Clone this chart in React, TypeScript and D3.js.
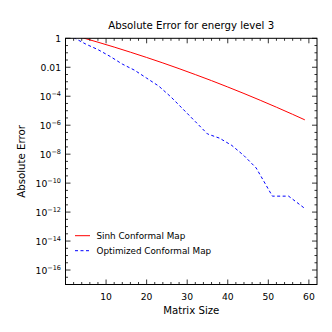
import React from "react";
import * as d3 from "d3";

// matrix sizes and absolute errors
const sinhSizes = [4, 8, 12, 16, 20, 24, 28, 32, 36, 40, 44, 48, 52, 56, 59];
const sinhErrors = [
  1.13, 0.538, 0.248, 0.11, 0.0475, 0.0199, 0.00802, 0.00313, 0.00119,
  4.34e-4, 1.54e-4, 5.27e-5, 1.75e-5, 5.61e-6, 2.34e-6,
];

const optSizes = [2, 5, 8, 11, 14, 17, 20, 23, 26, 29, 32, 35, 38, 41, 44, 47, 51, 55, 59];
const optErrors = [
  1.12, 0.398, 0.166, 0.0562, 0.0166, 0.00631, 0.00178, 5.0e-4, 8.9e-5, 1.26e-5,
  1.78e-6, 2.5e-7, 1.26e-7, 4.0e-8, 7.9e-9, 1.12e-9, 1.26e-11, 1.26e-11, 1.78e-12,
];

const xTicks = [10, 20, 30, 40, 50, 60];
const yTickExps = [0, -2, -4, -6, -8, -10, -12, -14, -16];

const W = 332;
const H = 332;
const m = { left: 65.5, right: 317, top: 38.3, bottom: 284.5 };
const FONT = "DejaVu Sans, sans-serif";

const x = d3.scaleLinear().domain([0, 62]).range([m.left, m.right]);
const y = d3.scaleLog().domain([1e-17, 1]).range([m.bottom, m.top]);

const lineGen = d3
  .line<[number, number]>()
  .x((d) => x(d[0]))
  .y((d) => y(d[1]));

const yLabel = (e: number) => {
  if (e === 0) return <tspan>1</tspan>;
  if (e === -2) return <tspan>0.01</tspan>;
  return (
    <>
      <tspan>10</tspan>
      <tspan dy={-4} fontSize={6.5}>
        {"\u2212" + Math.abs(e)}
      </tspan>
    </>
  );
};

export default function App() {
  const sinh = sinhSizes.map((s, i) => [s, sinhErrors[i]] as [number, number]);
  const opt = optSizes.map((s, i) => [s, optErrors[i]] as [number, number]);

  // minor ticks: x every 2, y every half decade
  const xMinor = d3.range(2, 62, 2).filter((v) => v % 10 !== 0);
  const yMinor = d3.range(0, -17.01, -0.5).filter((e) => !yTickExps.includes(e));

  return (
    <svg
      width={W}
      height={H}
      style={{ position: "absolute", left: 0, top: 0, background: "#fff" }}
      fontFamily={FONT}
    >
      <defs>
        <clipPath id="plot">
          <rect x={m.left} y={m.top} width={m.right - m.left} height={m.bottom - m.top} />
        </clipPath>
      </defs>

      <text x={(m.left + m.right) / 2} y={28.5} textAnchor="middle" fontSize={10.2}>
        Absolute Error for energy level 3
      </text>

      <g clipPath="url(#plot)" fill="none" strokeWidth={1}>
        <path d={lineGen(sinh) || ""} stroke="#ff0000" />
        <path d={lineGen(opt) || ""} stroke="#0000ff" strokeDasharray="3,2.5" />
      </g>

      {/* ticks */}
      <g stroke="#000" strokeWidth={0.8}>
        {xTicks.map((t) => (
          <g key={"xt" + t}>
            <line x1={x(t)} x2={x(t)} y1={m.bottom} y2={m.bottom - 5} />
            <line x1={x(t)} x2={x(t)} y1={m.top} y2={m.top + 5} />
          </g>
        ))}
        {xMinor.map((t) => (
          <g key={"xm" + t}>
            <line x1={x(t)} x2={x(t)} y1={m.bottom} y2={m.bottom - 2.5} />
            <line x1={x(t)} x2={x(t)} y1={m.top} y2={m.top + 2.5} />
          </g>
        ))}
        {yTickExps.map((e) => (
          <g key={"yt" + e}>
            <line x1={m.left} x2={m.left + 5} y1={y(10 ** e)} y2={y(10 ** e)} />
            <line x1={m.right} x2={m.right - 5} y1={y(10 ** e)} y2={y(10 ** e)} />
          </g>
        ))}
        {yMinor.map((e) => (
          <g key={"ym" + e}>
            <line x1={m.left} x2={m.left + 2.5} y1={y(10 ** e)} y2={y(10 ** e)} />
            <line x1={m.right} x2={m.right - 2.5} y1={y(10 ** e)} y2={y(10 ** e)} />
          </g>
        ))}
      </g>

      <rect
        x={m.left}
        y={m.top}
        width={m.right - m.left}
        height={m.bottom - m.top}
        fill="none"
        stroke="#000"
        strokeWidth={1}
      />

      {xTicks.map((t) => (
        <text key={"xl" + t} x={x(t)} y={299.5} textAnchor="middle" fontSize={9.2}>
          {t}
        </text>
      ))}
      {yTickExps.map((e) => (
        <text key={"yl" + e} x={61} y={y(10 ** e) + 3.5} textAnchor="end" fontSize={9.2}>
          {yLabel(e)}
        </text>
      ))}

      <text x={(m.left + m.right) / 2} y={313.5} textAnchor="middle" fontSize={10.2}>
        Matrix Size
      </text>
      <text
        transform={`translate(25,${(m.top + m.bottom) / 2}) rotate(-90)`}
        textAnchor="middle"
        fontSize={10.2}
      >
        Absolute Error
      </text>

      {/* legend */}
      <g fontSize={8.8}>
        <line x1={75} x2={90} y1={235.7} y2={235.7} stroke="#ff0000" strokeWidth={1} />
        <text x={96.5} y={239}>Sinh Conformal Map</text>
        <line
          x1={75}
          x2={90}
          y1={250.7}
          y2={250.7}
          stroke="#0000ff"
          strokeWidth={1}
          strokeDasharray="3,2.5"
        />
        <text x={96.5} y={254}>Optimized Conformal Map</text>
      </g>
    </svg>
  );
}
